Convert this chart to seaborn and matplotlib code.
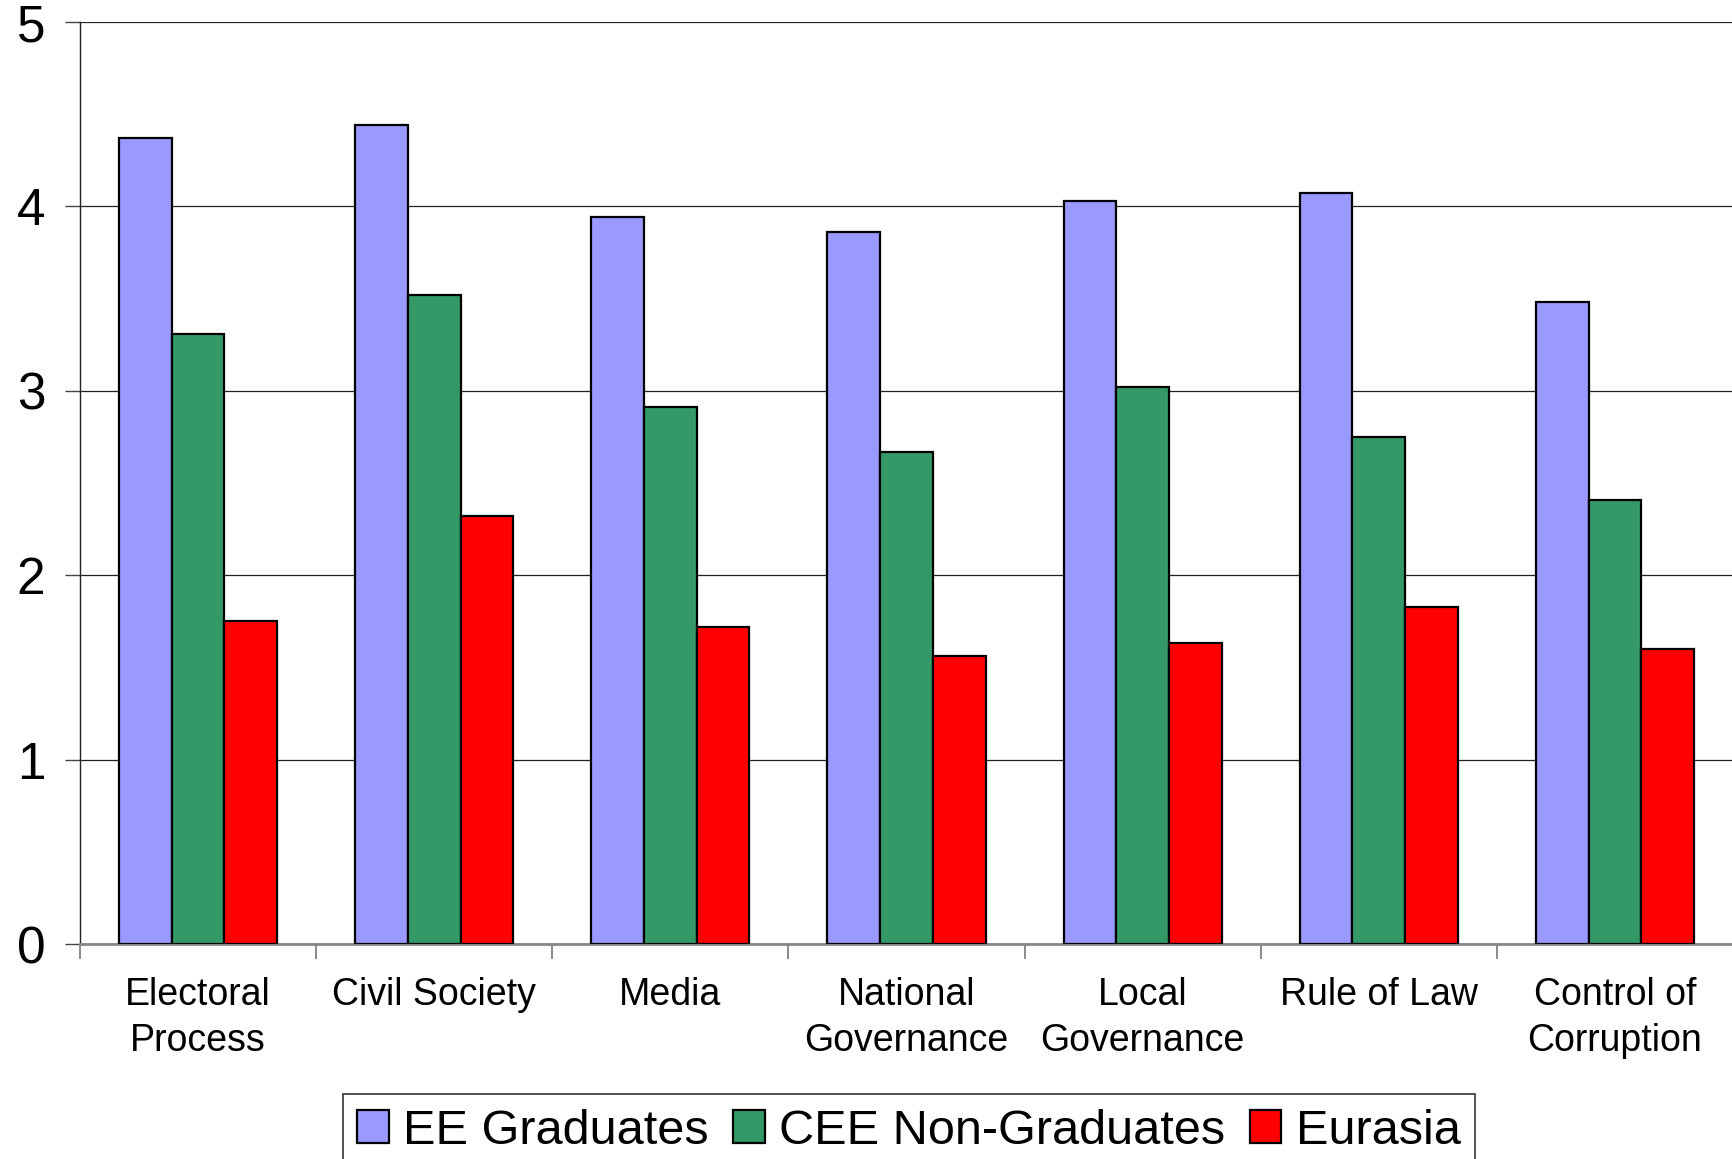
import numpy as np
import pandas as pd
import matplotlib
matplotlib.use("Agg")
import matplotlib.pyplot as plt
import seaborn as sns

# Chart data
categories = ["Electoral\nProcess", "Civil Society", "Media", "National\nGovernance",
              "Local\nGovernance", "Rule of Law", "Control of\nCorruption"]
series = ["EE Graduates", "CEE Non-Graduates", "Eurasia"]
eeGraduates = [4.37, 4.44, 3.94, 3.86, 4.03, 4.07, 3.48]
ceeNonGraduates = [3.31, 3.52, 2.91, 2.67, 3.02, 2.75, 2.41]
eurasia = [1.75, 2.32, 1.72, 1.56, 1.63, 1.83, 1.60]
colors = ["#9999FF", "#339966", "#FF0000"]

# Build long-form table
df = pd.DataFrame({
    "category": categories * 3,
    "series": [s for s in series for _ in categories],
    "value": eeGraduates + ceeNonGraduates + eurasia,
})

sns.set_style("white")
plt.rcParams["font.family"] = ["Liberation Sans", "DejaVu Sans"]
plt.rcParams["text.color"] = "black"
plt.rcParams["xtick.labelcolor"] = "black"
plt.rcParams["ytick.labelcolor"] = "black"

fig = plt.figure(figsize = (17.33, 11.59), dpi = 100)
ax = fig.add_axes([80 / 1733, 1 - 944 / 1159, 1 - 80 / 1733, (944 - 22) / 1159])

sns.barplot(data = df, x = "category", y = "value", hue = "series", order = categories,
            hue_order = series, palette = colors, width = 0.67, gap = 0,
            edgecolor = "black", linewidth = 1.6, saturation = 1, ax = ax, zorder = 3)

# Axis limits and grid
ax.set_xlim(-0.5, len(categories) - 0.5)
ax.set_ylim(0, 5)
ax.set_yticks([0, 1, 2, 3, 4, 5])
ax.yaxis.grid(True, color = "#222222", linewidth = 0.9, zorder = 0)
ax.set_axisbelow(True)

# Ticks at group boundaries, labels at group centres
ax.set_xticks(np.arange(-0.5, len(categories)), minor = False)
ax.set_xticklabels([])
ax.set_xticks(np.arange(len(categories)), minor = True)
ax.set_xticklabels(categories, minor = True, fontsize = 27, linespacing = 1.33)
ax.tick_params(axis = "x", which = "major", length = 11, width = 1.2, color = "#777777", direction = "out", bottom = True)
ax.tick_params(axis = "x", which = "minor", length = 0, pad = 24)
ax.tick_params(axis = "y", length = 11, width = 1, color = "#444444", direction = "out", left = True, labelsize = 37, pad = 14)

for side in ["top", "right"]:
    ax.spines[side].set_visible(False)
ax.spines["bottom"].set_color("#888888")
ax.spines["bottom"].set_linewidth(2)
ax.spines["left"].set_color("#222222")
ax.spines["left"].set_linewidth(1)

ax.set_xlabel("")
ax.set_ylabel("")

# Legend at the bottom
handles, labels = ax.get_legend_handles_labels()
ax.get_legend().remove()
leg = fig.legend(handles, labels, loc = "upper center", bbox_to_anchor = (909 / 1733, 1 - 1094 / 1159),
                 ncol = 3, fontsize = 35, frameon = True, fancybox = False, edgecolor = "black",
                 handlelength = 0.65, handleheight = 0.65, handletextpad = 0.3, columnspacing = 0.5,
                 borderpad = 0.3, borderaxespad = 0)
leg.get_frame().set_linewidth(1.2)

plt.savefig("out.png", dpi = 100)
plt.close()
